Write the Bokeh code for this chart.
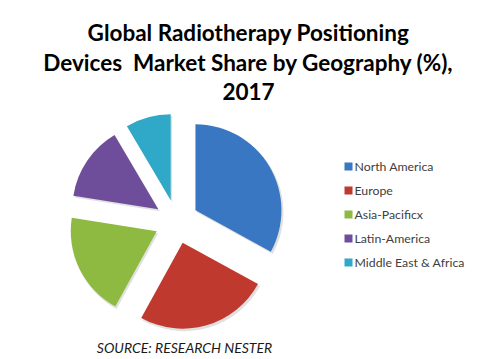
from math import pi, sin, cos

from bokeh.plotting import figure
from bokeh.models import Range1d
from bokeh.core.properties import value
from bokeh.embed import file_html
from bokeh.resources import INLINE

# Market share by region, 2017 (%)
regions = ["North America", "Europe", "Asia-Pacificx", "Latin-America", "Middle East & Africa"]
shares = [33.0, 25.0, 19.5, 14.0, 8.5]
colors = ["#3a77c2", "#c0392f", "#8fba42", "#6e4e9b", "#30a8c8"]

title_lines = [
    "Global Radiotherapy Positioning",
    "Devices\u00a0 Market Share by Geography (%),",
    "2017",
]
source_text = "SOURCE: RESEARCH NESTER"

W, H = 503, 359
p = figure(width=W, height=H, output_backend="svg", toolbar_location=None,
           x_range=Range1d(0, W), y_range=Range1d(0, H),
           min_border=0, outline_line_color=None)
p.axis.visible = False
p.grid.visible = False
p.background_fill_color = "white"
p.border_fill_color = "white"

# exploded pie, clockwise from 12 o'clock
cx, cy = 176, H - 221
radius = 86
explode = 22
total = sum(shares)
acc = 0.0
for share, col in zip(shares, colors):
    a0 = acc / total * 2 * pi
    acc += share
    a1 = acc / total * 2 * pi
    mid = (a0 + a1) / 2
    x = cx + explode * sin(mid)
    y = cy + explode * cos(mid)
    start = pi / 2 - a1
    end = pi / 2 - a0
    # soft shadow under each slice
    p.wedge(x=x + 1.5, y=y - 2, radius=radius + 0.5, start_angle=start, end_angle=end,
            fill_color="#000000", fill_alpha=0.12, line_color=None)
    p.wedge(x=x, y=y, radius=radius, start_angle=start, end_angle=end,
            fill_color=col, line_color=None)

# title
for i, line in enumerate(title_lines):
    p.text(x=[248], y=[H - 32 - i * 29.5], text=[line], text_align="center",
           text_baseline="alphabetic", text_font=value("Lato"), text_font_style="bold",
           text_font_size="22.5px", text_color="#000000")

# legend
lx, ly0, step = 348, H - 166, 24
for i, (name, col) in enumerate(zip(regions, colors)):
    yy = ly0 - i * step
    p.rect(x=[lx], y=[yy], width=8, height=8, fill_color=col, line_color=None)
    p.text(x=[lx + 6], y=[yy], text=[name], text_align="left", text_baseline="middle",
           text_font=value("Lato"), text_font_size="12.3px", text_color="#404040")

# source note
p.text(x=[184], y=[H - 347], text=[source_text], text_align="center", text_baseline="middle",
       text_font=value("Lato"), text_font_style="italic", text_font_size="14px",
       text_color="#1a1a1a")

open("out.html", "w").write(file_html(p, INLINE))
